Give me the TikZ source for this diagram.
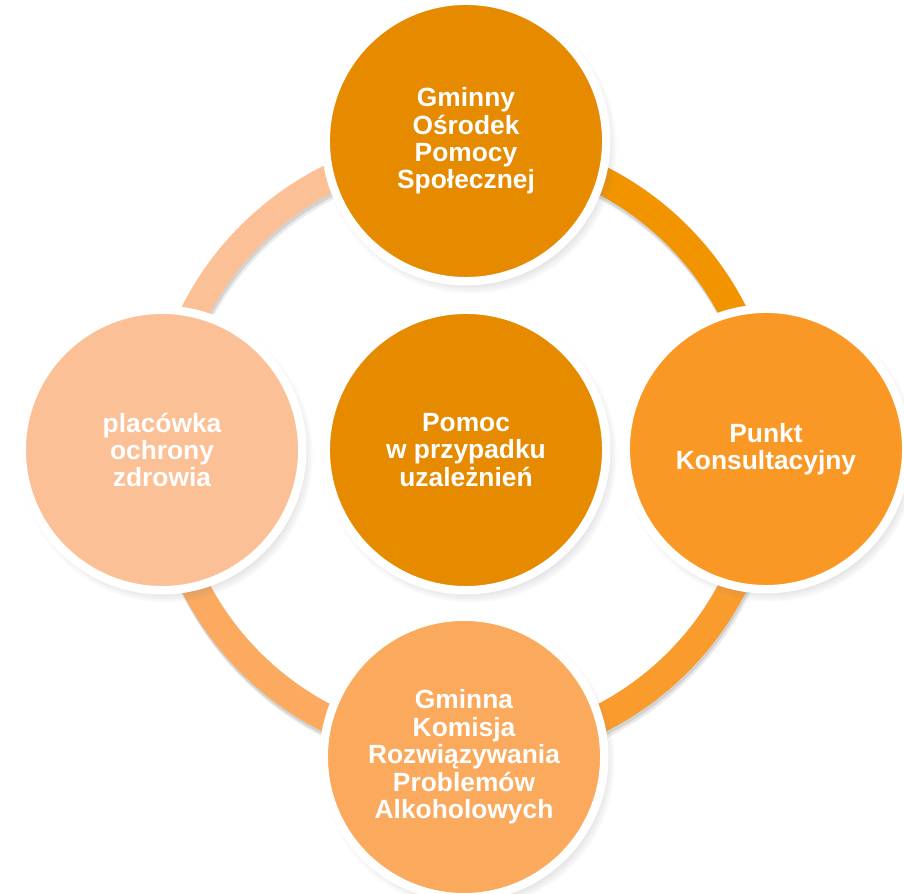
\documentclass[tikz,border=0pt]{standalone}
\usepackage{fontspec}
\setmainfont{Liberation Sans}
\usetikzlibrary{shadows}
\definecolor{darkorange}{RGB}{230,138,0}
\definecolor{midorange}{RGB}{250,152,38}
\definecolor{lightorange}{RGB}{251,169,92}
\definecolor{paleorange}{RGB}{251,192,150}
\definecolor{ringone}{RGB}{242,148,0}
\definecolor{ringtwo}{RGB}{250,155,45}
\definecolor{ringthree}{RGB}{251,170,95}
\definecolor{ringfour}{RGB}{251,192,150}
\tikzstyle{unit}=[shape=circle,draw=white,line width=4.8pt,minimum size=5.61cm,inner sep=0pt,
  text=white,align=center,font=\fontsize{15}{15.6}\selectfont\bfseries,
  circular drop shadow={shadow scale=1.05,shadow xshift=2pt,shadow yshift=-3pt,opacity=0.45}]
\tikzstyle{band}=[line width=0.56cm]
\begin{document}
\begin{tikzpicture}
	\useasboundingbox (0,0) rectangle (18.08,17.88);
	\coordinate (ring) at (9.28,8.90);
	\draw[band,black,opacity=0.08] (ring) ++(0.04,-0.12) circle (6.04);
	\draw[band,black,opacity=0.10] (ring) ++(0.02,-0.07) circle (6.04);
	\draw[band,ringone] (ring) ++(0:6.04) arc[start angle=0,end angle=90,radius=6.04];
	\draw[band,ringtwo] (ring) ++(-90:6.04) arc[start angle=-90,end angle=0,radius=6.04];
	\draw[band,ringthree] (ring) ++(180:6.04) arc[start angle=180,end angle=270,radius=6.04];
	\draw[band,ringfour] (ring) ++(90:6.04) arc[start angle=90,end angle=180,radius=6.04];
	\node[unit,fill=darkorange] (gops) at (9.32,15.06) {Gminny\\Ośrodek\\Pomocy\\Społecznej};
	\node[unit,fill=midorange] (punkt) at (15.32,8.90) {Punkt\\Konsultacyjny};
	\node[unit,fill=lightorange] (komisja) at (9.28,2.74) {Gminna\\Komisja\\Rozwiązywania\\Problemów\\Alkoholowych};
	\node[unit,fill=paleorange] (zdrowie) at (3.24,8.88) {placówka\\ochrony\\zdrowia};
	\node[unit,fill=darkorange] (pomoc) at (9.32,8.88) {Pomoc\\w przypadku\\uzależnień};
\end{tikzpicture}
\end{document}
